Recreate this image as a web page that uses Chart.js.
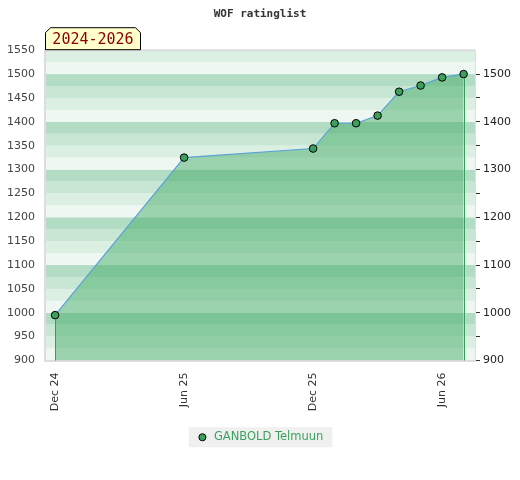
<!DOCTYPE html>
<html>
<head>
<meta charset="utf-8">
<title>WOF ratinglist</title>
<script src="https://cdn.jsdelivr.net/npm/chart.js@4.4.1/dist/chart.umd.min.js"></script>
<style>
  html, body { margin: 0; padding: 0; background: #fff; }
  #wrap { width: 520px; height: 480px; }
</style>
</head>
<body>
<div id="wrap"><canvas id="js--chart--rating"></canvas></div>
<script>
// rating history, x = months since Dec 24
const months = ["Dec 24", "Jun 25", "Dec 25", "Jan 26", "Feb 26", "Mar 26", "Apr 26", "May 26", "Jun 26", "Jul 26"];
const monthIndex = [0, 6, 12, 13, 14, 15, 16, 17, 18, 19];
const ratings = [995, 1325, 1344, 1397, 1397, 1413, 1463, 1476, 1493, 1500];

const xTickValues = [0, 6, 12, 18];
const xTickLabels = ["Dec 24", "Jun 25", "Dec 25", "Jun 26"];
const playerName = "GANBOLD Telmuun";
const periodLabel = "2024-2026";

// background stripes, one per 25 points (cycle of 4 inside every 100)
const bandColors = ['#eef7f1', '#dcefe3', '#c8e6d4', '#b3dcc4'];

const points = monthIndex.map(function (m, i) {
    return { x: m, y: ratings[i] };
});

const stripes = {
    id: 'stripes',
    beforeDraw(chart) {
        const ctx = chart.ctx;
        const area = chart.chartArea;
        const y = chart.scales.y;
        ctx.save();
        for (let v = y.min; v < y.max; v += 25) {
            const top = y.getPixelForValue(v + 25);
            const bottom = y.getPixelForValue(v);
            ctx.fillStyle = bandColors[Math.round((v % 100) / 25) % 4];
            ctx.fillRect(area.left, top, area.right - area.left, bottom - top);
        }
        // thin top border
        ctx.fillStyle = '#dddddd';
        ctx.fillRect(area.left, area.top - 1, area.right - area.left, 2);
        // legend background
        const lg = chart.legend;
        if (lg && lg.legendHitBoxes && lg.legendHitBoxes.length) {
            const b = lg.legendHitBoxes[0];
            const cy = b.top + b.height / 2;
            ctx.fillStyle = '#f0f0f0';
            ctx.fillRect(b.left - 8, cy - 10, b.width + 17, 20);
        }
        ctx.restore();
    }
};

const edges = {
    id: 'edges',
    afterDatasetsDraw(chart) {
        const ctx = chart.ctx;
        const meta = chart.getDatasetMeta(0);
        const bottom = chart.chartArea.bottom;
        const first = meta.data[0];
        const last = meta.data[meta.data.length - 1];
        ctx.save();
        ctx.strokeStyle = '#3a9c5a';
        ctx.lineWidth = 1;
        [first, last].forEach(function (p) {
            ctx.beginPath();
            ctx.moveTo(Math.round(p.x) + 0.5, p.y + 4);
            ctx.lineTo(Math.round(p.x) + 0.5, bottom);
            ctx.stroke();
        });
        ctx.restore();
    },
    afterDraw(chart) {
        // period tag above the plot
        const ctx = chart.ctx;
        const area = chart.chartArea;
        const l = area.left + 0.5, r = area.left + 95.5, t = area.top - 22.5, b = area.top - 0.5, c = 5;
        ctx.save();
        ctx.beginPath();
        ctx.moveTo(l, b);
        ctx.lineTo(l, t + c);
        ctx.lineTo(l + c, t);
        ctx.lineTo(r - c, t);
        ctx.lineTo(r, t + c);
        ctx.lineTo(r, b);
        ctx.closePath();
        ctx.fillStyle = '#ffffcc';
        ctx.fill();
        ctx.strokeStyle = '#000';
        ctx.lineWidth = 1;
        ctx.stroke();
        ctx.fillStyle = '#8b0000';
        ctx.font = '15px "DejaVu Sans Mono"';
        ctx.textAlign = 'center';
        ctx.textBaseline = 'middle';
        ctx.fillText(periodLabel, (l + r) / 2, (t + b) / 2 + 1);
        ctx.restore();
    }
};

Chart.defaults.font.family = '"DejaVu Sans"';

const data = {
    datasets: [
        {
            label: playerName,
            data: points,
            borderColor: '#5aa2d8',
            borderWidth: 1.2,
            backgroundColor: 'rgba(61, 169, 98, 0.47)',
            fill: 'start',
            tension: 0,
            pointRadius: 3.8,
            pointHoverRadius: 4,
            pointBackgroundColor: '#3c9f5c',
            pointBorderColor: '#000',
            pointBorderWidth: 1,
        }
    ]
};

const config = {
    type: 'line',
    data: data,
    plugins: [stripes, edges],
    options: {
        responsive: true,
        maintainAspectRatio: false,
        animation: false,
        layout: { padding: { top: 0, bottom: 27, left: 0, right: 0 } },
        plugins: {
            title: {
                display: true,
                text: 'WOF ratinglist',
                color: '#333',
                font: { family: '"DejaVu Sans Mono"', size: 11, weight: 'bold' },
                padding: { top: 8, bottom: 29 }
            },
            legend: {
                position: 'bottom',
                labels: {
                    usePointStyle: true,
                    pointStyle: 'circle',
                    boxWidth: 12,
                    boxHeight: 5,
                    color: '#3aa25e',
                    font: { size: 11.5 },
                    padding: 10
                }
            },
            tooltip: { enabled: false }
        },
        scales: {
            x: {
                type: 'linear',
                min: -0.47,
                max: 19.53,
                afterBuildTicks(scale) {
                    scale.ticks = xTickValues.map(function (v) { return { value: v }; });
                },
                afterFit(scale) { scale.height = 61; },
                ticks: {
                    minRotation: 90,
                    maxRotation: 90,
                    color: '#333',
                    font: { size: 11 },
                    padding: 12,
                    callback: function (v) {
                        const i = xTickValues.indexOf(v);
                        return i >= 0 ? xTickLabels[i] : '';
                    }
                },
                grid: { display: false, drawTicks: false },
                border: { color: '#dddddd', width: 2 }
            },
            y: {
                position: 'left',
                min: 900,
                max: 1550,
                afterFit(scale) { scale.width = 45; },
                ticks: {
                    stepSize: 50,
                    color: '#444',
                    font: { size: 11 },
                    padding: 10,
                    callback: function (v) { return String(v); }
                },
                grid: { display: false, drawTicks: false },
                border: { color: '#dddddd', width: 2 }
            },
            y2: {
                position: 'right',
                min: 900,
                max: 1550,
                afterBuildTicks(scale) {
                    scale.ticks = scale.ticks.filter(function (t) { return t.value <= 1500; });
                },
                afterFit(scale) { scale.width = 45; },
                ticks: {
                    stepSize: 50,
                    color: '#222',
                    font: { size: 11 },
                    padding: 3,
                    callback: function (v) { return v % 100 === 0 ? String(v) : ''; }
                },
                grid: { drawOnChartArea: false, drawTicks: true, tickLength: 5, color: '#333' },
                border: { color: '#dddddd', width: 1 }
            }
        }
    }
};

const chart = new Chart(document.getElementById("js--chart--rating"), config);
</script>
</body>
</html>
